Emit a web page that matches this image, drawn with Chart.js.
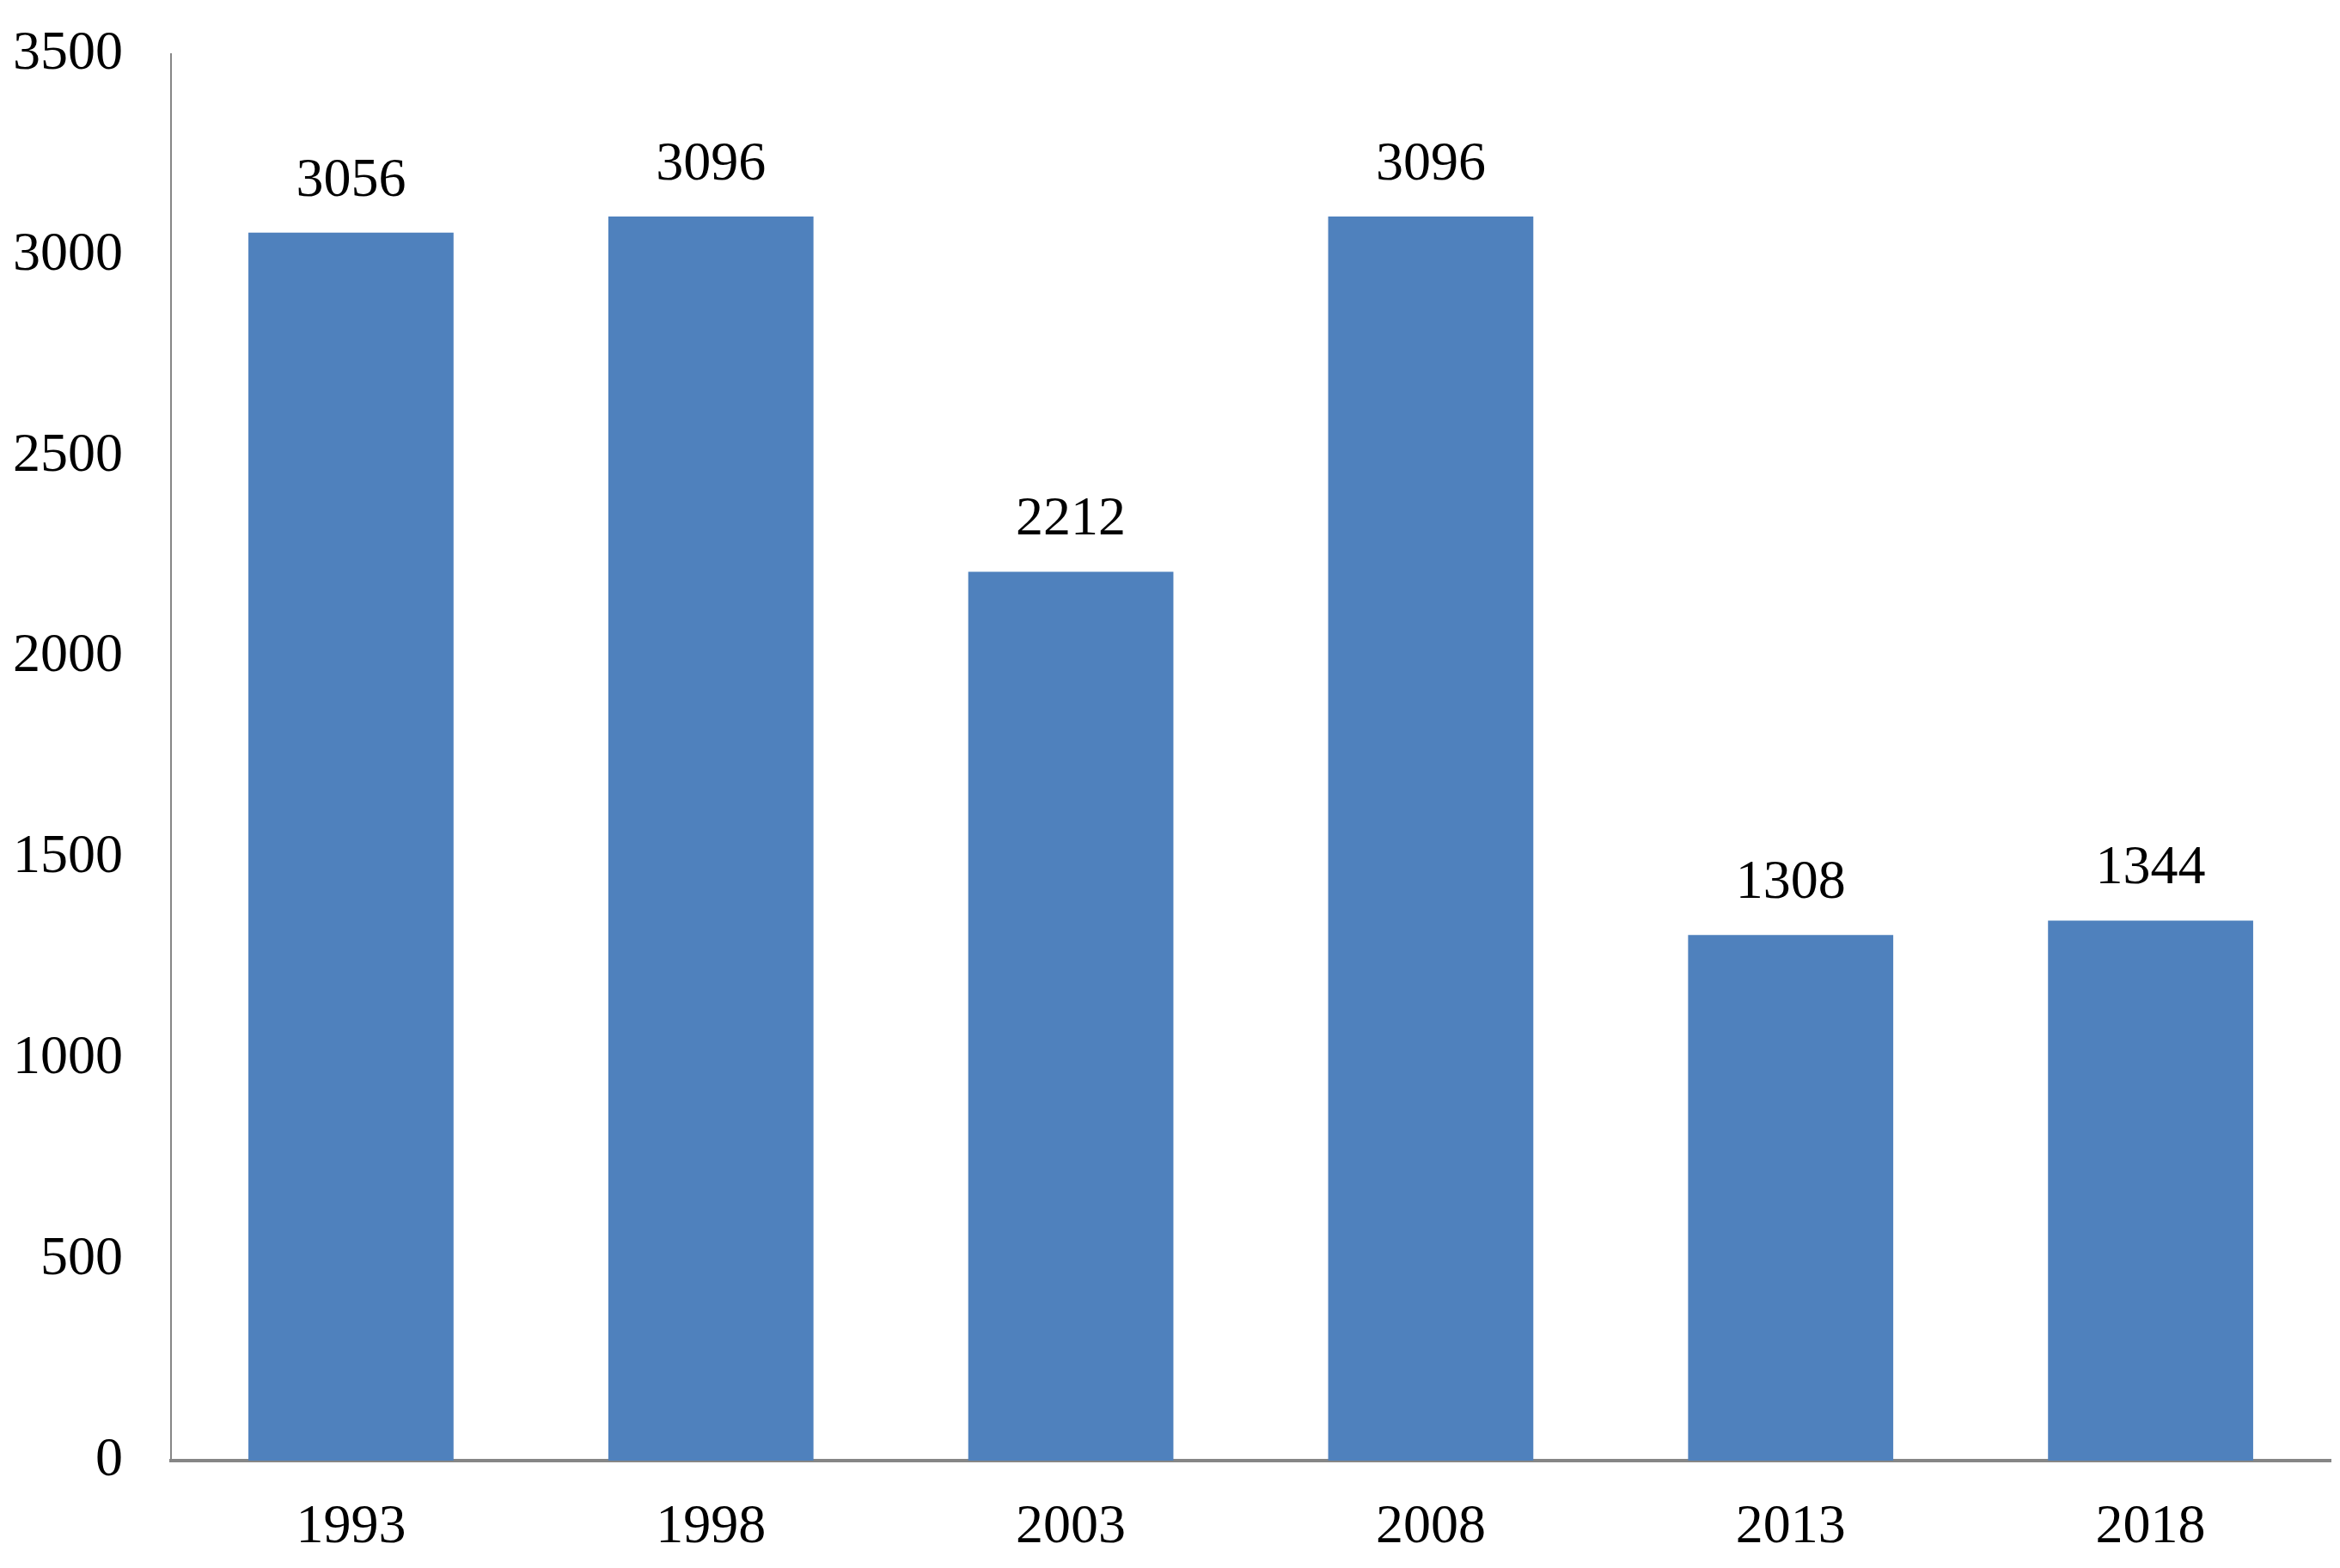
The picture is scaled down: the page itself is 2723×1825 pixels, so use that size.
<!DOCTYPE html>
<html>
<head>
<meta charset="utf-8">
<title>Bar chart 1993-2018</title>
<script src="https://cdn.jsdelivr.net/npm/chart.js@4.4.1/dist/chart.umd.min.js"></script>
<style>
    html, body { margin: 0; padding: 0; background: #ffffff; }
    canvas { display: block; }
</style>
</head>
<body>
<canvas id="barChart" width="2723" height="1825"></canvas>
<script>
// Chart data
const years = ['1993', '1998', '2003', '2008', '2013', '2018'];
const counts = [3056, 3096, 2212, 3096, 1308, 1344];
const yTicks = [0, 500, 1000, 1500, 2000, 2500, 3000, 3500];

const FONT = "'Liberation Serif', 'Times New Roman', serif";
const BAR_COLOR = '#4F81BD';
const AXIS_COLOR = '#868686';

// Draw the value above each bar
const valueLabels = {
    id: 'valueLabels',
    afterDatasetsDraw(chart) {
        const ctx = chart.ctx;
        const meta = chart.getDatasetMeta(0);
        ctx.save();
        ctx.font = '64px ' + FONT;
        ctx.fillStyle = '#000000';
        ctx.textAlign = 'center';
        ctx.textBaseline = 'alphabetic';
        meta.data.forEach((bar, i) => {
            ctx.fillText(String(counts[i]), bar.x, bar.y - 43);
        });
        ctx.restore();
    }
};

new Chart(document.getElementById('barChart'), {
    type: 'bar',
    data: {
        labels: years,
        datasets: [{
            data: counts,
            backgroundColor: BAR_COLOR,
            borderWidth: 0,
            categoryPercentage: 1,
            barPercentage: 0.57
        }]
    },
    options: {
        responsive: false,
        animation: false,
        layout: {
            padding: { top: 63, right: 11, left: 0, bottom: 0 }
        },
        plugins: {
            legend: { display: false },
            tooltip: { enabled: false }
        },
        scales: {
            x: {
                grid: { display: false, drawTicks: false },
                border: { display: true, color: AXIS_COLOR, width: 4 },
                ticks: {
                    color: '#000000',
                    padding: 40,
                    font: { family: FONT, size: 64 }
                },
                afterFit(scale) { scale.height = 125; }
            },
            y: {
                min: 0,
                max: 3500,
                grid: { display: false, drawTicks: false },
                border: { display: true, color: AXIS_COLOR, width: 2 },
                afterBuildTicks(scale) {
                    scale.ticks = yTicks.map(v => ({ value: v }));
                },
                ticks: {
                    color: '#000000',
                    padding: 56,
                    font: { family: FONT, size: 64 },
                    callback: (value) => String(value)
                },
                afterFit(scale) {
                    scale.width = 199;
                    scale.paddingTop = 0;
                    scale.paddingBottom = 0;
                }
            }
        }
    },
    plugins: [valueLabels]
});
</script>
</body>
</html>
